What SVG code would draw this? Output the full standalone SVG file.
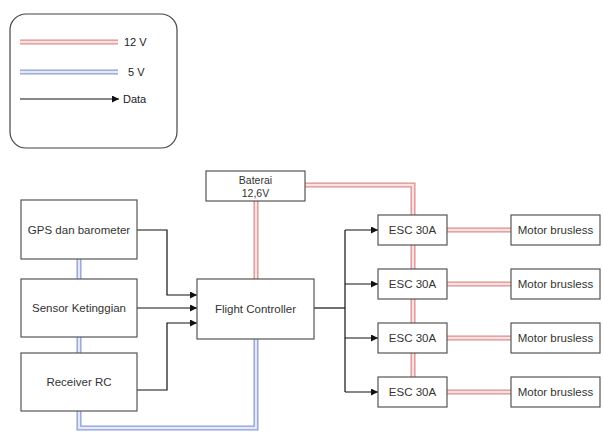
<svg xmlns="http://www.w3.org/2000/svg" width="603" height="432" viewBox="0 0 603 432">
<defs>
<marker id="arr" viewBox="0 0 10 10" refX="10" refY="5" markerWidth="7" markerHeight="7" markerUnits="userSpaceOnUse" orient="auto">
<path d="M0,0 L10,5 L0,10 z" fill="#111"/>
</marker>
<style>
.box{fill:#fff;stroke:#555;stroke-width:1.2}
.t{font-family:"Liberation Sans",Arial,sans-serif;font-size:11.5px;fill:#333;text-anchor:middle;dominant-baseline:central}
.lt{font-family:"Liberation Sans",Arial,sans-serif;font-size:11px;fill:#222;dominant-baseline:central}
.ro{fill:none;stroke:#dc8f8f;stroke-width:5}
.ri{fill:none;stroke:#fbe2e2;stroke-width:2.4}
.bo{fill:none;stroke:#8e9dd4;stroke-width:5}
.bi{fill:none;stroke:#e4e9f8;stroke-width:2.4}
.d{fill:none;stroke:#111;stroke-width:1.2}
</style>
</defs>
<rect width="603" height="432" fill="#fff"/>
<g id="legend">
<rect x="10" y="14" width="167" height="134" rx="16" ry="16" fill="#fff" stroke="#444" stroke-width="1.2"/>
<path class="ro" d="M20,42 H118"/><path class="ri" d="M20,42 H118"/>
<text class="lt" x="124" y="42">12 V</text>
<path class="bo" d="M20,72 H118"/><path class="bi" d="M20,72 H118"/>
<text class="lt" x="128" y="72">5 V</text>
<path class="d" d="M20,99 H119" marker-end="url(#arr)"/>
<text class="lt" x="123" y="99">Data</text>
</g>
<g id="connectors">
<path class="bo" d="M79,259 V279 M79,337 V353 M79,411 V428 H256 V339"/>
<path class="bi" d="M79,259 V279 M79,337 V353 M79,411 V428 H256 V339"/>
<path class="ro" d="M256,201 V279 M305,185 H413 V377"/>
<path class="ri" d="M256,201 V279 M305,185 H413 V377"/>
<path class="ro" d="M447,230 H511 M447,284 H511 M447,338 H511 M447,392 H511"/>
<path class="ri" d="M447,230 H511 M447,284 H511 M447,338 H511 M447,392 H511"/>
<path class="d" d="M137,230 H167 V295 H197" marker-end="url(#arr)"/>
<path class="d" d="M137,308 H197" marker-end="url(#arr)"/>
<path class="d" d="M137,390 H167 V323 H197" marker-end="url(#arr)"/>
<path class="d" d="M314,308 H345"/>
<path class="d" d="M345,230 V392"/>
<path class="d" d="M345,230 H378" marker-end="url(#arr)"/>
<path class="d" d="M345,284 H378" marker-end="url(#arr)"/>
<path class="d" d="M345,338 H378" marker-end="url(#arr)"/>
<path class="d" d="M345,392 H378" marker-end="url(#arr)"/>
</g>
<g id="baterai"><rect class="box" x="206" y="171" width="99" height="30"/><text class="t" x="255.5" y="179.5" style="font-size:10.5px">Baterai</text><text class="t" x="255.5" y="193" style="font-size:10.5px">12,6V</text></g>
<g id="gps"><rect class="box" x="21" y="200" width="116" height="59"/><text class="t" x="79" y="230">GPS dan barometer</text></g>
<g id="sensor"><rect class="box" x="21" y="279" width="116" height="58"/><text class="t" x="79" y="308">Sensor Ketinggian</text></g>
<g id="receiver"><rect class="box" x="21" y="353" width="116" height="58"/><text class="t" x="79" y="382">Receiver RC</text></g>
<g id="fc"><rect class="box" x="197" y="279" width="117" height="60"/><text class="t" x="255.5" y="309">Flight Controller</text></g>
<g id="esc1"><rect class="box" x="378" y="215" width="69" height="30"/><text class="t" x="412.5" y="230">ESC 30A</text></g>
<g id="esc2"><rect class="box" x="378" y="269" width="69" height="30"/><text class="t" x="412.5" y="284">ESC 30A</text></g>
<g id="esc3"><rect class="box" x="378" y="323" width="69" height="30"/><text class="t" x="412.5" y="338">ESC 30A</text></g>
<g id="esc4"><rect class="box" x="378" y="377" width="69" height="30"/><text class="t" x="412.5" y="392">ESC 30A</text></g>
<g id="motor1"><rect class="box" x="511" y="215" width="89" height="30"/><text class="t" x="555.5" y="230">Motor brusless</text></g>
<g id="motor2"><rect class="box" x="511" y="269" width="89" height="30"/><text class="t" x="555.5" y="284">Motor brusless</text></g>
<g id="motor3"><rect class="box" x="511" y="323" width="89" height="30"/><text class="t" x="555.5" y="338">Motor brusless</text></g>
<g id="motor4"><rect class="box" x="511" y="377" width="89" height="30"/><text class="t" x="555.5" y="392">Motor brusless</text></g>
</svg>
